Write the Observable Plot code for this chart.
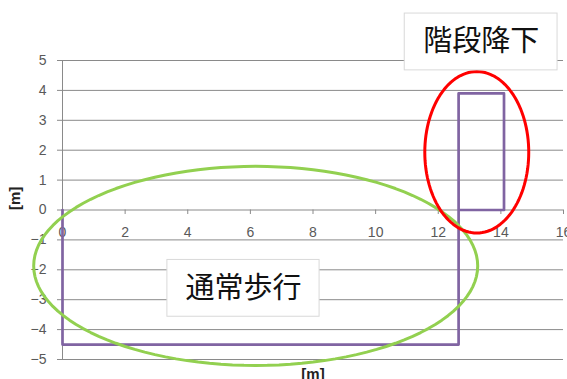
<!DOCTYPE html>
<html>
<head>
<meta charset="utf-8">
<script src="https://cdn.jsdelivr.net/npm/d3@7"></script>
<script src="https://cdn.jsdelivr.net/npm/@observablehq/plot@0.6"></script>
<style>
  html, body { margin: 0; padding: 0; background: #ffffff; }
</style>
</head>
<body>
<div id="chart"></div>
<script>
// Walking trajectory [m]: flat walk, then going down the stairs
const pathX = [0, 0, 12.65, 12.65, 14.1, 14.1, 12.65];
const pathY = [0, -4.5, -4.5, 3.9, 3.9, 0, 0];

// Axis ticks
const xTicks = [0, 2, 4, 6, 8, 10, 12, 14, 16];
const yTicks = [-5, -4, -3, -2, -1, 0, 1, 2, 3, 4, 5];

// Highlight ellipses (center x, center y, radius x, radius y) in metres
const walkEllipse = [6.17, -1.87, 7.09, 3.33];
const stairsEllipse = [13.23, 1.93, 1.66, 2.7];

// Callout labels and their boxes (x1, x2, y1, y2) in metres
const walkLabel = "通常歩行";
const walkBox = [3.35, 8.21, -1.67, -3.57];
const stairsLabel = "階段降下";
const stairsBox = [10.93, 15.81, 6.57, 4.67];

const path = pathX.map((x, i) => ({x, y: pathY[i]}));

function ellipsePoints([cx, cy, rx, ry]) {
  return d3.range(0, 360, 3).map(a => {
    const t = a * Math.PI / 180;
    return {x: cx + rx * Math.cos(t), y: cy + ry * Math.sin(t)};
  });
}

const boxRect = ([x1, x2, y1, y2]) => [{x1, x2, y1, y2}];
const boxCenter = ([x1, x2, y1, y2], text) => [{x: (x1 + x2) / 2, y: (y1 + y2) / 2, text}];

const gridColor = "#8a8a8a";
const labelColor = "#595959";
const cjk = "'Noto Sans CJK JP', sans-serif";

const chart = Plot.plot({
  width: 567,
  height: 379,
  marginLeft: 62,
  marginRight: 4,
  marginTop: 60,
  marginBottom: 20,
  style: {fontFamily: "'Liberation Sans', Arial, sans-serif", fontSize: "14px", background: "#ffffff", overflow: "hidden"},
  x: {domain: [0, 16], axis: null},
  y: {domain: [-5, 5], axis: null},
  marks: [
    Plot.gridY(yTicks, {stroke: gridColor, strokeOpacity: 1, strokeWidth: 1}),
    Plot.ruleX([0], {stroke: gridColor, strokeWidth: 1}),
    Plot.axisY(yTicks, {anchor: "left", tickSize: 5, tickPadding: 11, stroke: gridColor, fill: labelColor, label: null, fontSize: 14}),
    Plot.ruleX(xTicks, {x: d => d, y1: 0, y2: -0.15, stroke: gridColor}),
    Plot.text(xTicks, {x: d => d, y: 0, dy: 23, text: d => String(d), fill: labelColor, fontSize: 14}),
    Plot.text(["[m]"], {frameAnchor: "left", dx: -47, rotate: -90, fontWeight: "bold", fill: "#222", fontSize: 15}),
    Plot.text(["[m]"], {frameAnchor: "bottom", dy: 19, fontWeight: "bold", fill: "#222", fontSize: 15}),
    Plot.line(path, {x: "x", y: "y", stroke: "#8064a2", strokeWidth: 2.7, clip: false}),
    Plot.line(ellipsePoints(walkEllipse), {x: "x", y: "y", curve: "linear-closed", stroke: "#92d050", strokeWidth: 3, clip: false}),
    Plot.line(ellipsePoints(stairsEllipse), {x: "x", y: "y", curve: "linear-closed", stroke: "#ff0000", strokeWidth: 3, clip: false}),
    Plot.rect(boxRect(walkBox), {x1: "x1", x2: "x2", y1: "y1", y2: "y2", fill: "#ffffff", stroke: "#d9d9d9"}),
    Plot.text(boxCenter(walkBox, walkLabel), {x: "x", y: "y", text: "text", fontSize: 29, fill: "#111", fontFamily: cjk}),
    Plot.rect(boxRect(stairsBox), {x1: "x1", x2: "x2", y1: "y1", y2: "y2", fill: "#ffffff", stroke: "#d9d9d9"}),
    Plot.text(boxCenter(stairsBox, stairsLabel), {x: "x", y: "y", text: "text", fontSize: 29, fill: "#111", fontFamily: cjk})
  ]
});

document.getElementById("chart").appendChild(chart);
</script>
</body>
</html>
